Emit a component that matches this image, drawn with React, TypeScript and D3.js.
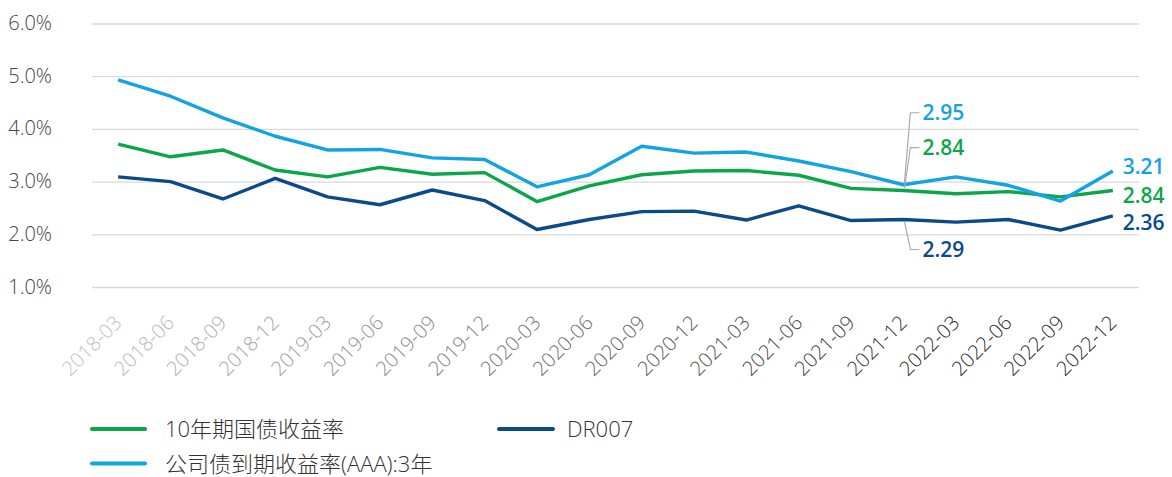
import React from 'react';
import * as d3 from 'd3';

const categories = [
  '2018-03', '2018-06', '2018-09', '2018-12',
  '2019-03', '2019-06', '2019-09', '2019-12',
  '2020-03', '2020-06', '2020-09', '2020-12',
  '2021-03', '2021-06', '2021-09', '2021-12',
  '2022-03', '2022-06', '2022-09', '2022-12',
];

// 10年期国债收益率
const govBond10y = [3.72, 3.48, 3.61, 3.23, 3.10, 3.28, 3.15, 3.18, 2.63, 2.93, 3.14, 3.21, 3.22, 3.13, 2.88, 2.84, 2.78, 2.82, 2.72, 2.84];
// 公司债到期收益率(AAA):3年
const corpAAA3y = [4.94, 4.63, 4.22, 3.87, 3.61, 3.62, 3.46, 3.43, 2.91, 3.14, 3.68, 3.55, 3.57, 3.40, 3.20, 2.95, 3.10, 2.94, 2.64, 3.21];
// DR007
const dr007 = [3.10, 3.01, 2.68, 3.07, 2.72, 2.57, 2.85, 2.65, 2.10, 2.29, 2.44, 2.45, 2.28, 2.55, 2.27, 2.29, 2.24, 2.29, 2.09, 2.36];

const yTicks = [1, 2, 3, 4, 5, 6];

const GREEN = '#0ca64a';
const LIGHT = '#12a3e3';
const DARK = '#0a4a88';

const series = [
  { name: '10年期国债收益率', values: govBond10y, color: GREEN },
  { name: '公司债到期收益率(AAA):3年', values: corpAAA3y, color: LIGHT },
  { name: 'DR007', values: dr007, color: DARK },
];

const W = 1172;
const H = 477;
const latin = "'Open Sans', 'Noto Sans', sans-serif";
const cjk = "'Open Sans', 'Noto Sans CJK SC', sans-serif";

export default function App() {
  const x = d3.scaleBand<string>().domain(categories).range([92, 1139]).padding(0);
  const cx = (c: string) => (x(c) as number) + x.bandwidth() / 2;
  const y = d3.scaleLinear().domain([1, 6]).range([287.5, 24]);

  const line = d3.line<number>()
    .x((_, i) => cx(categories[i]))
    .y(d => y(d));

  // tick labels fade from light grey on the left to near black on the right
  const labelColor = (i: number) => d3.interpolateRgb('#c2c2c2', '#262626')(Math.min(1, i / 16));

  // callouts at 2021-12
  const midIdx = categories.indexOf('2021-12');
  const mx = cx(categories[midIdx]);
  const callouts = [
    { values: corpAAA3y, color: LIGHT, dy: -72, end: -2 },
    { values: govBond10y, color: GREEN, dy: -43, end: -2 },
    { values: dr007, color: DARK, dy: 30, end: 2 },
  ];

  const lastIdx = categories.length - 1;
  const lx = cx(categories[lastIdx]);
  const endLabels = [
    { values: corpAAA3y, color: LIGHT, dy: -5 },
    { values: govBond10y, color: GREEN, dy: 5 },
    { values: dr007, color: DARK, dy: 7 },
  ];

  return (
    <svg width={W} height={H} style={{ position: 'absolute', left: 0, top: 0 }}>
      <rect width={W} height={H} fill="#fff" />

      {yTicks.map(t => (
        <g key={t}>
          <line x1={92} x2={1139} y1={y(t)} y2={y(t)} stroke="#d9d9d9" strokeWidth={1.3} />
          <text x={52} y={y(t) + 6} textAnchor="end" fontFamily={latin} fontSize={20} fill="#444" fontWeight={300}>
            {t.toFixed(1)}%
          </text>
        </g>
      ))}

      {categories.map((c, i) => (
        <text
          key={c}
          transform={`translate(${cx(c) + 5},${324}) rotate(-45)`}
          textAnchor="end"
          fontFamily={latin}
          fontSize={20}
          fontWeight={300}
          fill={labelColor(i)}
        >
          {c}
        </text>
      ))}

      {series.map(s => (
        <path key={s.name} d={line(s.values) || ''} fill="none" stroke={s.color} strokeWidth={3.4} strokeLinejoin="round" />
      ))}

      {callouts.map((c, k) => {
        const py = y(c.values[midIdx]);
        const ly = py + c.dy;
        return (
          <g key={k}>
            <polyline
              points={`${mx + 1},${py + c.end} ${mx + 7},${ly} ${mx + 16},${ly}`}
              fill="none" stroke="#aaa" strokeWidth={1.2}
            />
            <text x={mx + 19} y={ly + 7.5} fontFamily={latin} fontSize={21} fontWeight={600} fill={c.color}>
              {c.values[midIdx].toFixed(2)}
            </text>
          </g>
        );
      })}

      {endLabels.map((e, k) => (
        <text key={k} x={lx + 10} y={y(e.values[lastIdx]) + e.dy + 7.5} fontFamily={latin} fontSize={21} fontWeight={600} fill={e.color}>
          {e.values[lastIdx].toFixed(2)}
        </text>
      ))}

      {/* legend */}
      <g>
        <line x1={92} x2={145} y1={429} y2={429} stroke={GREEN} strokeWidth={4} strokeLinecap="round" />
        <text x={165} y={437} fontFamily={cjk} fontSize={22} fill="#333" fontWeight={300}>{series[0].name}</text>
        <line x1={499} x2={553} y1={429} y2={429} stroke={DARK} strokeWidth={4} strokeLinecap="round" />
        <text x={567} y={437} fontFamily={cjk} fontSize={22} fill="#333" fontWeight={300}>{series[2].name}</text>
        <line x1={92} x2={145} y1={463.5} y2={463.5} stroke={LIGHT} strokeWidth={4} strokeLinecap="round" />
        <text x={165} y={471.5} fontFamily={cjk} fontSize={22} fill="#333" fontWeight={300}>{series[1].name}</text>
      </g>
    </svg>
  );
}
